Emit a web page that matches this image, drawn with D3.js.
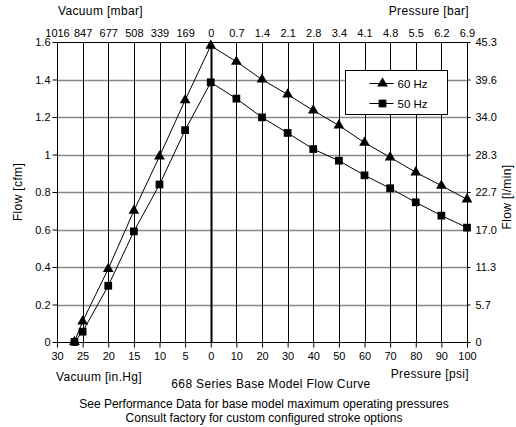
<!DOCTYPE html>
<html>
<head>
<meta charset="utf-8">
<script src="https://cdn.jsdelivr.net/npm/d3@7"></script>
<style>
  body { margin: 0; background: #fff; }
  svg text { font-family: "Liberation Sans", Arial, sans-serif; font-size: 11px; fill: #000; }
  svg text.title { font-size: 12px; letter-spacing: 0.35px; }
  svg text.note { font-size: 12px; }
</style>
</head>
<body>
<div id="chart"></div>
<script>
// data
var vacuumInHg = [26.6, 25, 20, 15, 10, 5, 0];
var flow60Vac = [0, 0.11, 0.39, 0.70, 0.99, 1.29, 1.58];
var flow50Vac = [0, 0.055, 0.30, 0.59, 0.84, 1.13, 1.385];

var pressurePsi = [10, 20, 30, 40, 50, 60, 70, 80, 90, 100];
var flow60Press = [1.495, 1.40, 1.32, 1.235, 1.155, 1.063, 0.985, 0.905, 0.834, 0.761];
var flow50Press = [1.298, 1.198, 1.115, 1.029, 0.967, 0.889, 0.82, 0.745, 0.674, 0.61];

// axis ticks
var vacTicks = [30, 25, 20, 15, 10, 5, 0];
var psiTicks = [10, 20, 30, 40, 50, 60, 70, 80, 90, 100];
var mbarLabels = ["1016", "847", "677", "508", "339", "169", "0"];
var barLabels = ["0.7", "1.4", "2.1", "2.8", "3.4", "4.1", "4.8", "5.5", "6.2", "6.9"];
var cfmTicks = [0, 0.2, 0.4, 0.6, 0.8, 1, 1.2, 1.4, 1.6];
var lpmLabels = ["0", "5.7", "11.3", "17.0", "22.7", "28.3", "34.0", "39.6", "45.3"];

var W = 516, H = 427;
var margin = {top: 42, right: 49, bottom: 85, left: 57};
var width = W - margin.left - margin.right,
    height = H - margin.top - margin.bottom;

var svg = d3.select("#chart").append("svg")
    .attr("width", W)
    .attr("height", H);

var g = svg.append("g")
    .attr("transform", "translate(" + margin.left + "," + margin.top + ")");

// vacuum is drawn as negative pressure: 6 vacuum steps, 10 pressure steps
var x = d3.scaleLinear()
    .domain([-30, 0, 100])
    .range([0, width * 6 / 16, width]);
var y = d3.scaleLinear()
    .domain([0, 1.6])
    .range([height, 0]);

var allX = vacTicks.map(function(v) { return -v; }).concat(psiTicks);

// horizontal grid
g.append("g").selectAll("line")
  .data(cfmTicks.slice(1, -1))
  .enter().append("line")
    .attr("x1", 0).attr("x2", width)
    .attr("y1", function(d) { return Math.round(y(d)) + 0.5; })
    .attr("y2", function(d) { return Math.round(y(d)) + 0.5; })
    .attr("stroke", "#888")
    .attr("stroke-width", 1.3);

// vertical grid
g.append("g").selectAll("line")
  .data(allX)
  .enter().append("line")
    .attr("x1", function(d) { return Math.round(x(d)) + 0.5; })
    .attr("x2", function(d) { return Math.round(x(d)) + 0.5; })
    .attr("y1", 0).attr("y2", height)
    .attr("stroke", "#000")
    .attr("stroke-width", function(d) { return d === 0 ? 2 : 1; });

// frame
g.append("rect")
    .attr("x", 0.5).attr("y", 0.5)
    .attr("width", width).attr("height", height)
    .attr("fill", "none").attr("stroke", "#000");

// left axis
var yAxisL = d3.axisLeft(y).tickValues(cfmTicks).tickSize(5).tickPadding(2)
    .tickFormat(function(d) { return d3.format("")(d); });
g.append("g").attr("transform", "translate(0.5,0)").call(yAxisL)
    .call(function(s) { s.select(".domain").remove(); });

// right axis
var yAxisR = d3.axisRight(y).tickValues(cfmTicks).tickSize(3).tickPadding(5)
    .tickFormat(function(d, i) { return lpmLabels[i]; });
g.append("g").attr("transform", "translate(" + (width + 0.5) + ",0)").call(yAxisR)
    .call(function(s) { s.select(".domain").remove(); });

// bottom axis
var xAxisB = d3.axisBottom(x).tickValues(allX).tickSize(5).tickPadding(5)
    .tickFormat(function(d) { return Math.abs(d); });
g.append("g").attr("transform", "translate(0," + (height + 0.5) + ")").call(xAxisB)
    .call(function(s) { s.select(".domain").remove(); });

// top axis
var topLabels = mbarLabels.concat(barLabels);
var xAxisT = d3.axisTop(x).tickValues(allX).tickSize(0).tickPadding(5)
    .tickFormat(function(d, i) { return topLabels[i]; });
g.append("g").attr("transform", "translate(0,0)").call(xAxisT)
    .call(function(s) { s.select(".domain").remove(); });

g.selectAll(".tick text").style("font-size", "11px")
    .style("font-family", "'Liberation Sans', Arial, sans-serif");
g.selectAll(".tick line").attr("stroke", "#000");

// series
var series = [
  {name: "60 Hz", shape: d3.symbolTriangle, size: 50,
   pts: vacuumInHg.map(function(v, i) { return [-v, flow60Vac[i]]; })
        .concat(pressurePsi.map(function(p, i) { return [p, flow60Press[i]]; }))},
  {name: "50 Hz", shape: d3.symbolSquare, size: 60,
   pts: vacuumInHg.map(function(v, i) { return [-v, flow50Vac[i]]; })
        .concat(pressurePsi.map(function(p, i) { return [p, flow50Press[i]]; }))}
];

var line = d3.line()
    .x(function(d) { return x(d[0]); })
    .y(function(d) { return y(d[1]); });

series.forEach(function(s) {
  g.append("path")
      .attr("d", line(s.pts))
      .attr("fill", "none")
      .attr("stroke", "#000")
      .attr("stroke-width", 1);
  g.selectAll(null)
    .data(s.pts)
    .enter().append("path")
      .attr("d", d3.symbol().type(s.shape).size(s.size))
      .attr("transform", function(d) { return "translate(" + x(d[0]) + "," + y(d[1]) + ")"; })
      .attr("fill", "#000");
});

// legend
var leg = svg.append("g").attr("transform", "translate(345.5,70.5)");
leg.append("rect")
    .attr("width", 102).attr("height", 44)
    .attr("fill", "#fff").attr("stroke", "#000");
series.forEach(function(s, i) {
  var ly = 13 + i * 20;
  leg.append("line")
      .attr("x1", 24).attr("x2", 48)
      .attr("y1", ly).attr("y2", ly)
      .attr("stroke", "#000");
  leg.append("path")
      .attr("d", d3.symbol().type(s.shape).size(s.size))
      .attr("transform", "translate(37," + ly + ")")
      .attr("fill", "#000");
  leg.append("text")
      .attr("x", 52).attr("y", ly + 4)
      .style("font-size", "11.5px")
      .text(s.name);
});

// titles
svg.append("text").attr("class", "title").attr("x", 58).attr("y", 15).text("Vacuum [mbar]");
svg.append("text").attr("class", "title").attr("x", 469).attr("y", 15).attr("text-anchor", "end").text("Pressure [bar]");
svg.append("text").attr("class", "title").attr("x", 56).attr("y", 381).text("Vacuum [in.Hg]");
svg.append("text").attr("class", "title").attr("x", 469).attr("y", 378).attr("text-anchor", "end").text("Pressure [psi]");
svg.append("text").attr("class", "title").attr("x", 271).attr("y", 388).attr("text-anchor", "middle").text("668 Series Base Model Flow Curve");
svg.append("text").attr("class", "note").attr("x", 264).attr("y", 408).attr("text-anchor", "middle").text("See Performance Data for base model maximum operating pressures");
svg.append("text").attr("class", "note").attr("x", 264).attr("y", 422).attr("text-anchor", "middle").text("Consult factory for custom configured stroke options");

svg.append("text").attr("class", "title")
    .attr("transform", "translate(22," + (margin.top + height / 2) + ")rotate(-90)")
    .attr("text-anchor", "middle").text("Flow [cfm]");
svg.append("text").attr("class", "title")
    .attr("transform", "translate(511," + (margin.top + height / 2 + 5) + ")rotate(-90)")
    .attr("text-anchor", "middle").text("Flow [l/min]");
</script>
</body>
</html>
